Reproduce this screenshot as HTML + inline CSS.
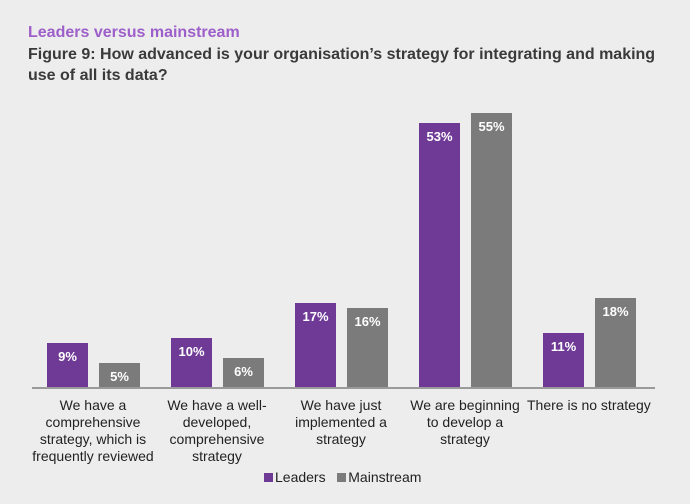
<!DOCTYPE html>
<html><head><style>
body{margin:0;width:690px;height:504px;background:#ededed;font-family:"Liberation Sans",sans-serif;position:relative;overflow:hidden}
.t1{position:absolute;left:28px;top:24px;font-size:16px;font-weight:bold;color:#9d5fc9}
.t2{position:absolute;left:28px;top:44px;font-size:16px;font-weight:bold;color:#3a3a3a;line-height:21px;white-space:nowrap}
.bar{position:absolute;width:41px;color:#fff;font-weight:bold;font-size:13px;text-align:center;box-sizing:border-box;padding-top:6px}
.L{background:#6f3a96}.M{background:#7b7b7b}
.axis{position:absolute;left:32px;width:623px;top:387px;height:2px;background:#9a9a9a}
.cat{position:absolute;top:397px;width:124px;text-align:center;font-size:14px;line-height:17px;color:#222}
.leg{position:absolute;top:469px;font-size:14px;color:#222}
.sw{display:inline-block;width:9px;height:9px;margin-right:2px}
</style></head><body>
<div class="t1">Leaders versus mainstream</div>
<div class="t2">Figure 9: How advanced is your organisation’s strategy for integrating and making<br>use of all its data?</div>
<div class="bar L" style="left:47px;top:343px;height:45px">9%</div>
<div class="bar M" style="left:99px;top:363px;height:25px">5%</div>
<div class="bar L" style="left:171px;top:338px;height:50px">10%</div>
<div class="bar M" style="left:223px;top:358px;height:30px">6%</div>
<div class="bar L" style="left:295px;top:303px;height:85px">17%</div>
<div class="bar M" style="left:347px;top:308px;height:80px">16%</div>
<div class="bar L" style="left:419px;top:123px;height:265px">53%</div>
<div class="bar M" style="left:471px;top:113px;height:275px">55%</div>
<div class="bar L" style="left:543px;top:333px;height:55px">11%</div>
<div class="bar M" style="left:595px;top:298px;height:90px">18%</div>
<div class="axis"></div>
<div class="cat" style="left:31px">We have a comprehensive strategy, which is frequently reviewed</div>
<div class="cat" style="left:155px">We have a well-<br>developed, comprehensive strategy</div>
<div class="cat" style="left:279px">We have just implemented a strategy</div>
<div class="cat" style="left:403px">We are beginning to develop a strategy</div>
<div class="cat" style="left:527px;width:130px;text-align:left">There is no strategy</div>
<div class="leg" style="left:264px"><span class="sw" style="background:#6f3a96"></span>Leaders&nbsp;&nbsp;&nbsp;<span class="sw" style="background:#7b7b7b"></span>Mainstream</div>
</body></html>
